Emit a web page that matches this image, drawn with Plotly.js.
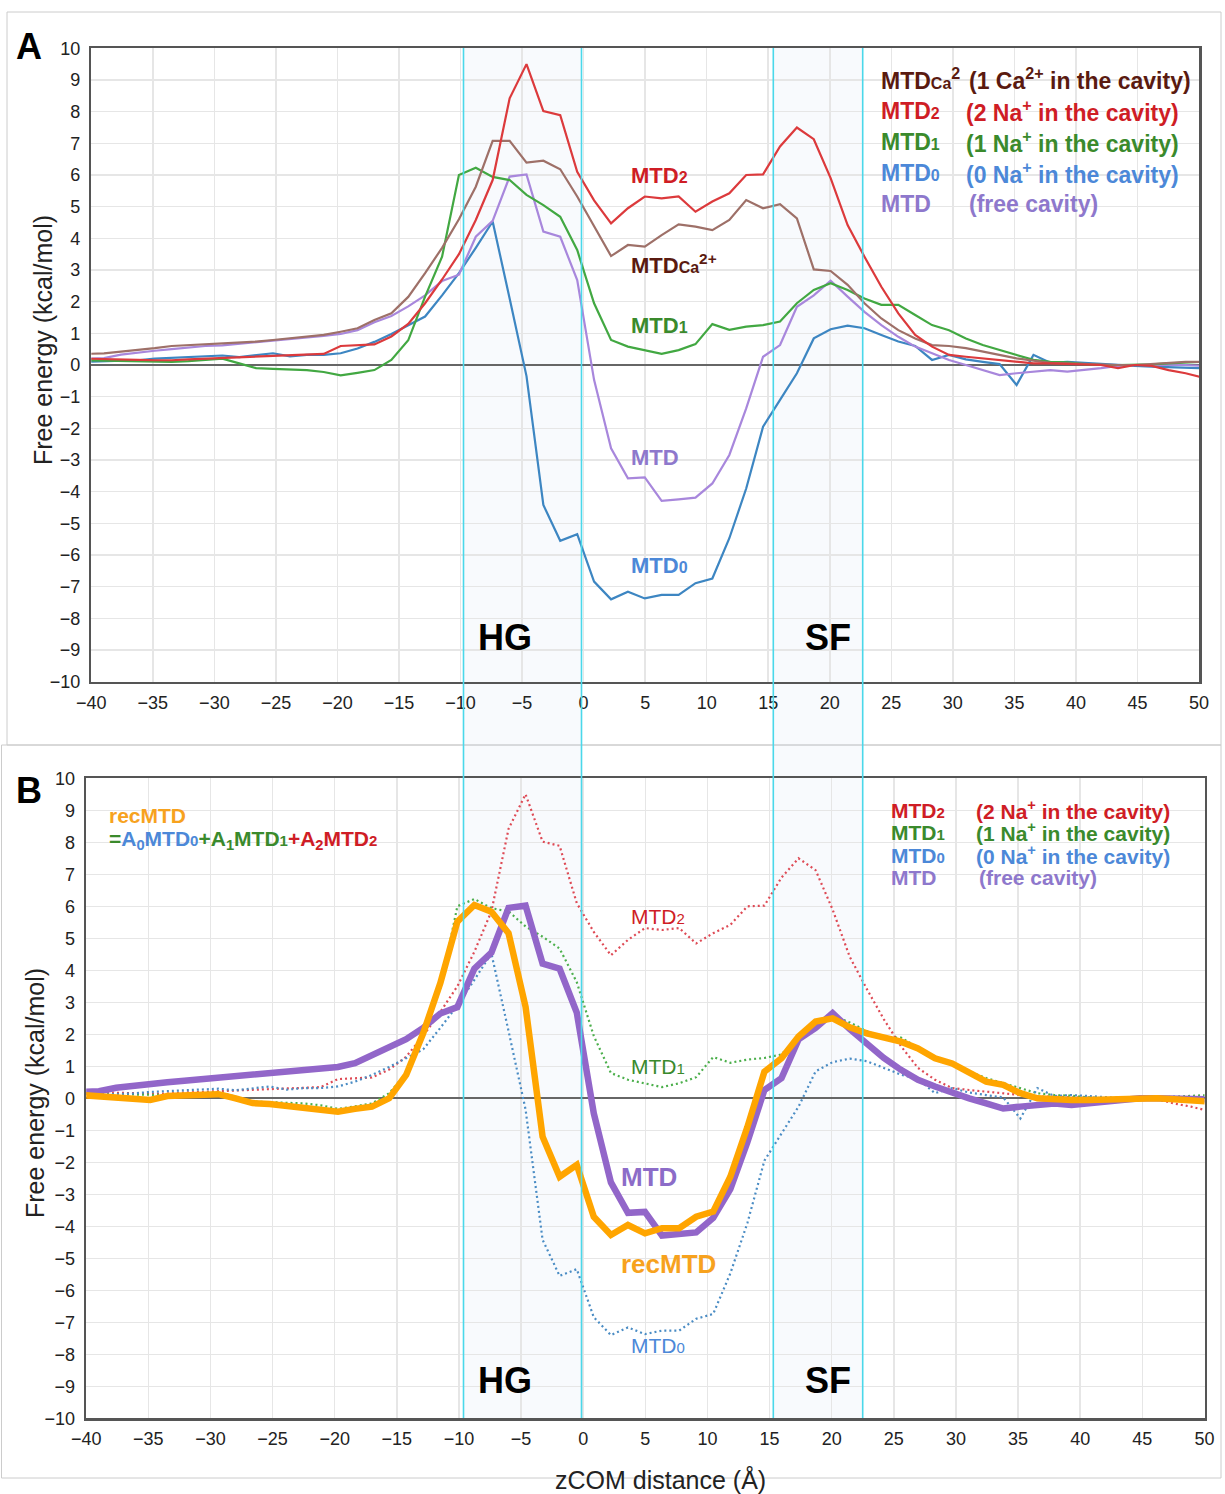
<!DOCTYPE html>
<html><head><meta charset="utf-8">
<script src="https://cdn.plot.ly/plotly-3.0.1.min.js"></script>
<style>html,body{margin:0;padding:0;background:#fff;}#chart{width:1225px;height:1494px;}</style>
</head><body><div id="chart"></div>
<script>
// ---------- DATA ----------
const zcom = [-40.34,-38.97,-37.59,-36.22,-34.85,-33.47,-32.10,-30.73,-29.35,-27.98,
  -26.61,-25.24,-23.86,-22.49,-21.12,-19.74,-18.37,-17.00,-15.62,-14.25,
  -12.88,-11.50,-10.13,-8.76,-7.39,-6.01,-4.64,-3.27,-1.90,-0.52,
  0.85,2.23,3.60,4.97,6.34,7.72,9.09,10.46,11.84,13.21,
  14.58,15.96,17.33,18.70,20.07,21.45,22.82,24.19,25.57,26.94,
  28.31,29.69,31.06,32.43,33.80,35.18,36.55,37.92,39.30,40.67,
  42.04,43.42,44.79,46.16,47.53,48.91,50.28];

const mtdCa = [0.35,0.37,0.42,0.47,0.53,0.60,0.63,0.66,0.68,0.70,
  0.74,0.79,0.84,0.89,0.95,1.05,1.16,1.42,1.63,2.15,
  2.90,3.70,4.60,5.63,7.08,7.08,6.39,6.45,6.18,5.32,
  4.40,3.44,3.79,3.74,4.10,4.44,4.37,4.26,4.58,5.21,
  4.95,5.08,4.63,3.02,2.97,2.53,1.95,1.47,1.10,0.84,
  0.63,0.60,0.53,0.42,0.32,0.21,0.14,0.07,0.05,0.03,
  0.00,0.00,0.00,0.03,0.07,0.10,0.10];

const mtd2 = [0.20,0.18,0.16,0.16,0.15,0.15,0.18,0.20,0.22,0.25,
  0.28,0.30,0.30,0.33,0.35,0.60,0.62,0.65,0.90,1.30,
  1.95,2.70,3.50,4.58,5.84,8.42,9.50,8.02,7.89,6.10,
  5.20,4.47,4.95,5.32,5.26,5.32,4.84,5.16,5.42,6.00,
  6.02,6.90,7.50,7.13,5.90,4.42,3.42,2.47,1.63,0.95,
  0.58,0.32,0.26,0.21,0.16,0.10,0.05,0.05,0.03,0.00,
  0.00,-0.10,0.00,-0.03,-0.16,-0.26,-0.39];

const mtd1 = [0.15,0.14,0.13,0.12,0.10,0.10,0.12,0.15,0.20,0.05,
  -0.10,-0.12,-0.15,-0.16,-0.22,-0.33,-0.25,-0.16,0.16,0.78,
  2.16,3.42,6.00,6.23,5.94,5.84,5.37,5.05,4.68,3.63,
  1.95,0.79,0.58,0.47,0.35,0.47,0.66,1.29,1.11,1.21,
  1.26,1.37,1.95,2.37,2.58,2.37,2.10,1.90,1.90,1.58,
  1.26,1.10,0.84,0.63,0.47,0.32,0.16,0.10,0.08,0.03,
  0.00,0.00,0.00,0.02,0.05,0.07,0.10];

const mtd0 = [0.10,0.12,0.13,0.15,0.20,0.22,0.25,0.28,0.30,0.25,
  0.30,0.37,0.27,0.32,0.32,0.37,0.52,0.73,0.98,1.26,
  1.53,2.20,2.90,3.70,4.53,2.10,-0.35,-4.42,-5.55,-5.34,
  -6.84,-7.40,-7.16,-7.37,-7.26,-7.26,-6.89,-6.74,-5.47,-3.90,
  -1.95,-1.10,-0.26,0.84,1.13,1.24,1.16,0.95,0.74,0.60,
  0.16,0.32,0.18,0.10,0.03,-0.63,0.32,0.07,0.10,0.07,
  0.03,0.00,-0.03,-0.05,-0.07,-0.10,-0.10];

const mtdFree = [0.20,0.22,0.33,0.40,0.45,0.50,0.55,0.60,0.62,0.67,
  0.70,0.77,0.82,0.87,0.92,0.98,1.10,1.35,1.55,1.85,
  2.20,2.65,2.85,4.05,4.55,5.95,6.02,4.21,4.05,2.68,
  -0.47,-2.63,-3.58,-3.55,-4.29,-4.24,-4.19,-3.74,-2.84,-1.37,
  0.26,0.63,1.84,2.20,2.66,2.16,1.68,1.26,0.89,0.58,
  0.37,0.16,0.00,-0.16,-0.32,-0.26,-0.21,-0.16,-0.21,-0.16,
  -0.10,-0.03,0.00,0.00,0.00,0.00,-0.03];

const recMtd = [0.10,0.07,0.02,0.02,-0.05,0.07,0.10,0.10,0.13,0.00,
  -0.15,-0.18,-0.24,-0.26,-0.31,-0.42,-0.33,-0.26,0.00,0.73,
  2.03,3.60,5.52,6.04,5.83,5.16,2.86,-1.20,-2.45,-2.08,
  -3.70,-4.27,-3.96,-4.22,-4.06,-4.06,-3.70,-3.54,-2.45,-0.90,
  0.83,1.25,1.93,2.40,2.50,2.22,2.03,1.88,1.77,1.56,
  1.25,1.09,0.78,0.52,0.42,0.16,0.00,-0.05,-0.05,-0.05,
  -0.03,-0.03,0.00,0.00,-0.03,-0.05,-0.10];

const xTicks = [-40,-35,-30,-25,-20,-15,-10,-5,0,5,10,15,20,25,30,35,40,45,50];
const yTicks = [-10,-9,-8,-7,-6,-5,-4,-3,-2,-1,0,1,2,3,4,5,6,7,8,9,10];
const regionEdgesPx = [463.5, 581.5, 773.3, 862.7]; // HG and SF bands (page pixels)

// ---------- LAYOUT HELPERS ----------
const W = 1225, H = 1494;
const PX = v => v / W;
const PY = v => 1 - v / H;
const F = 'Liberation Sans, Arial, Helvetica, sans-serif';

const axisX = (domain, anchor) => ({
  domain: domain, anchor: anchor, range: [-40, 50], tickvals: xTicks,
  showgrid: true, gridcolor: '#e6e6e6', gridwidth: 1.5, zeroline: false,
  showline: true, mirror: true, linecolor: '#555', linewidth: 2.5,
  ticks: '', ticklabelstandoff: 3, tickfont: {family: F, size: 18, color: '#222'},
  fixedrange: true
});
const axisY = (domain, anchor) => ({
  domain: domain, anchor: anchor, range: [-10, 10], tickvals: yTicks,
  showgrid: true, gridcolor: '#e6e6e6', gridwidth: 1.5,
  zeroline: true, zerolinecolor: '#666', zerolinewidth: 2,
  showline: true, mirror: true, linecolor: '#555', linewidth: 2.5,
  ticks: '', ticklabelstandoff: 5, tickfont: {family: F, size: 18, color: '#222'},
  fixedrange: true
});

// ---------- TRACES ----------
const line = (y, color, width, xa, ya, dash) => ({
  type: 'scatter', mode: 'lines', x: zcom, y: y, xaxis: xa, yaxis: ya,
  line: {color: color, width: width, dash: dash || 'solid'}, hoverinfo: 'skip', showlegend: false
});

const traces = [
  // Panel A
  line(mtd0, '#3d86c2', 2.2, 'x', 'y'),
  line(mtdFree, '#a887dc', 2.2, 'x', 'y'),
  line(mtd1, '#42a842', 2.2, 'x', 'y'),
  line(mtdCa, '#9e7068', 2.2, 'x', 'y'),
  line(mtd2, '#dc3a3c', 2.2, 'x', 'y'),
  // Panel B
  line(mtd2, '#de4a55', 2.2, 'x2', 'y2', '2px,3px'),
  line(mtd1, '#4caf4c', 2.2, 'x2', 'y2', '2px,3px'),
  line(mtd0, '#4a8cc4', 2.2, 'x2', 'y2', '2px,3px'),
  line(mtdFree, '#9266c9', 6.5, 'x2', 'y2'),
  line(recMtd, '#ffa500', 6.5, 'x2', 'y2')
];

// ---------- SHAPES ----------
const shapes = [
  {type: 'rect', xref: 'paper', yref: 'paper', x0: PX(7), x1: PX(1221), y0: PY(745), y1: PY(12),
   line: {color: '#cccccc', width: 1}, fillcolor: 'rgba(0,0,0,0)', layer: 'below'},
  {type: 'rect', xref: 'paper', yref: 'paper', x0: PX(1.5), x1: PX(1221), y0: PY(1478), y1: PY(745),
   line: {color: '#cccccc', width: 1}, fillcolor: 'rgba(0,0,0,0)', layer: 'below'}
];
[[0, 1], [2, 3]].forEach(([a, b]) => {
  shapes.push({type: 'rect', xref: 'paper', yref: 'paper',
    x0: PX(regionEdgesPx[a]), x1: PX(regionEdgesPx[b]), y0: PY(1418), y1: PY(48),
    line: {width: 0}, fillcolor: 'rgba(215,228,245,0.17)', layer: 'below'});
});
regionEdgesPx.forEach(p => {
  shapes.push({type: 'line', xref: 'paper', yref: 'paper', x0: PX(p), x1: PX(p), y0: PY(1418), y1: PY(48),
    line: {color: '#4ad8ea', width: 1.6}, layer: 'above'});
});

// ---------- ANNOTATIONS ----------
const ann = (text, x, y, color, size, opts) => Object.assign({
  text: text, xref: 'paper', yref: 'paper', x: PX(x), y: PY(y), showarrow: false,
  xanchor: 'left', yanchor: 'middle', font: {family: F, size: size, color: color}
}, opts || {});
const small = (t, s) => `<span style="font-size:${s}px">${t}</span>`;

const C = {brownT: '#5a1a10', redT: '#cf1d25', greenT: '#3a8a2c', blueT: '#4c88d8', purpT: '#8e78cc', orangeT: '#f7a21e'};

const annotations = [
  // panel letters
  ann('<b>A</b>', 29, 47, '#000', 36, {xanchor: 'center'}),
  ann('<b>B</b>', 29, 790, '#000', 36, {xanchor: 'center'}),
  // y titles
  ann('Free energy (kcal/mol)', 43, 340, '#222', 25, {xanchor: 'center', textangle: -90}),
  ann('Free energy (kcal/mol)', 35, 1093, '#222', 25, {xanchor: 'center', textangle: -90}),
  // x title
  ann('zCOM distance (Å)', 660, 1479, '#222', 25, {xanchor: 'center'}),

  // Panel A legend
  ann('<b>MTD' + small('Ca', 16) + '<sup>2</sup></b>', 879, 79, C.brownT, 23),
  ann('<b>(1 Ca<sup>2+</sup> in the cavity)</b>', 967, 79, C.brownT, 23),
  ann('<b>MTD' + small('2', 16) + '</b>', 879, 111, C.redT, 23),
  ann('<b>(2 Na<sup>+</sup> in the cavity)</b>', 964, 111, C.redT, 23),
  ann('<b>MTD' + small('1', 16) + '</b>', 879, 142, C.greenT, 23),
  ann('<b>(1 Na<sup>+</sup> in the cavity)</b>', 964, 142, C.greenT, 23),
  ann('<b>MTD' + small('0', 16) + '</b>', 879, 173, C.blueT, 23),
  ann('<b>(0 Na<sup>+</sup> in the cavity)</b>', 964, 173, C.blueT, 23),
  ann('<b>MTD</b>', 879, 204, C.purpT, 23),
  ann('<b>(free cavity)</b>', 967, 204, C.purpT, 23),

  // Panel A inline labels
  ann('<b>MTD' + small('2', 16) + '</b>', 629, 175, C.redT, 22),
  ann('<b>MTD' + small('Ca', 16) + '<sup>2+</sup></b>', 629, 264, C.brownT, 22),
  ann('<b>MTD' + small('1', 16) + '</b>', 629, 325, C.greenT, 22),
  ann('<b>MTD</b>', 629, 457, C.purpT, 22),
  ann('<b>MTD' + small('0', 16) + '</b>', 629, 565, C.blueT, 22),
  ann('<b>HG</b>', 505, 637, '#000', 36, {xanchor: 'center'}),
  ann('<b>SF</b>', 828, 637, '#000', 36, {xanchor: 'center'}),

  // Panel B formula
  ann('<b>recMTD</b>', 107, 815, C.orangeT, 21),
  ann('<b><span style="color:' + C.greenT + '">=</span>' +
      '<span style="color:' + C.blueT + '">A<sub>0</sub>MTD' + small('0', 15) + '</span>' +
      '<span style="color:' + C.greenT + '">+A<sub>1</sub>MTD' + small('1', 15) + '</span>' +
      '<span style="color:' + C.redT + '">+A<sub>2</sub>MTD' + small('2', 15) + '</span></b>',
      107, 840, C.greenT, 21),

  // Panel B legend
  ann('<b>MTD' + small('2', 15) + '</b>', 889, 810, C.redT, 21),
  ann('<b>(2 Na<sup>+</sup> in the cavity)</b>', 974, 810, C.redT, 21),
  ann('<b>MTD' + small('1', 15) + '</b>', 889, 832, C.greenT, 21),
  ann('<b>(1 Na<sup>+</sup> in the cavity)</b>', 974, 832, C.greenT, 21),
  ann('<b>MTD' + small('0', 15) + '</b>', 889, 855, C.blueT, 21),
  ann('<b>(0 Na<sup>+</sup> in the cavity)</b>', 974, 855, C.blueT, 21),
  ann('<b>MTD</b>', 889, 877, C.purpT, 21),
  ann('<b>(free cavity)</b>', 977, 877, C.purpT, 21),

  // Panel B inline labels
  ann('MTD' + small('2', 15), 629, 916, C.redT, 21),
  ann('MTD' + small('1', 15), 629, 1066, C.greenT, 21),
  ann('<b>MTD</b>', 619, 1177, '#8c6cc8', 26),
  ann('<b>recMTD</b>', 619, 1264, C.orangeT, 26),
  ann('MTD' + small('0', 15), 629, 1345, C.blueT, 21),
  ann('<b>HG</b>', 505, 1380, '#000', 36, {xanchor: 'center'}),
  ann('<b>SF</b>', 828, 1380, '#000', 36, {xanchor: 'center'})
];

const layout = {
  width: W, height: H, margin: {l: 0, r: 0, t: 0, b: 0},
  paper_bgcolor: '#ffffff', plot_bgcolor: 'rgba(0,0,0,0)',
  showlegend: false,
  xaxis: axisX([PX(91.3), PX(1199)], 'y'),
  yaxis: axisY([PY(681.7), PY(48.3)], 'x'),
  xaxis2: axisX([PX(86.2), PX(1204.5)], 'y2'),
  yaxis2: axisY([PY(1418.3), PY(778.3)], 'x2'),
  shapes: shapes,
  annotations: annotations
};

Plotly.newPlot('chart', traces, layout, {staticPlot: true, displayModeBar: false});
</script>
</body></html>
